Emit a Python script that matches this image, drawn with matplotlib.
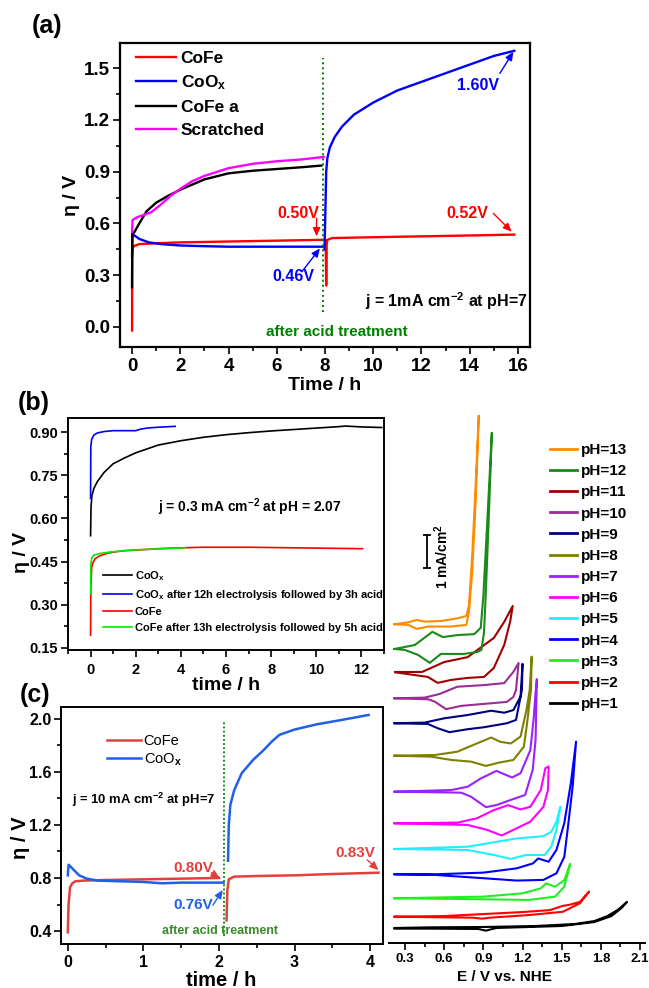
import matplotlib
matplotlib.use('Agg')
import matplotlib.pyplot as plt
from matplotlib.lines import Line2D
from matplotlib.ticker import MultipleLocator

plt.rcParams['font.family'] = ['Liberation Sans', 'DejaVu Sans']
plt.rcParams['font.weight'] = 'bold'
plt.rcParams['mathtext.fontset'] = 'custom'
plt.rcParams['mathtext.rm'] = 'Liberation Sans:bold'
plt.rcParams['mathtext.it'] = 'Liberation Sans:italic:bold'
plt.rcParams['mathtext.bf'] = 'Liberation Sans:bold'
plt.rcParams['mathtext.default'] = 'rm'

# ---------------- data: panel (a) ----------------
a_cofe1_t = [0, 0.005, 0.03, 0.1, 0.3, 1.0, 2.0, 4.0, 6.0, 7.9]
a_cofe1_v = [-0.02, 0.40, 0.46, 0.47, 0.48, 0.485, 0.49, 0.495, 0.50, 0.505]
a_cofe2_t = [8.03, 8.05, 8.07, 8.1, 8.3, 10, 12, 14, 15.85]
a_cofe2_v = [0.50, 0.24, 0.48, 0.505, 0.515, 0.52, 0.525, 0.53, 0.535]
a_coox1_t = [0, 0.02, 0.1, 0.3, 0.7, 1.2, 2.0, 3.0, 4.0, 6.0, 7.9]
a_coox1_v = [0.41, 0.54, 0.53, 0.51, 0.49, 0.48, 0.472, 0.468, 0.465, 0.465, 0.465]
a_coox2_t = [7.98, 8.02, 8.05, 8.1, 8.2, 8.4, 8.7, 9.2, 10, 11, 12, 13, 14, 15, 15.85]
a_coox2_v = [0.45, 0.70, 0.90, 0.98, 1.04, 1.10, 1.16, 1.23, 1.30, 1.37, 1.42, 1.47, 1.52, 1.57, 1.60]
a_cofea_t = [0, 0.01, 0.1, 0.3, 0.6, 1.0, 1.5, 2, 3, 4, 5, 6, 7, 7.85]
a_cofea_v = [0.23, 0.54, 0.55, 0.60, 0.67, 0.72, 0.76, 0.795, 0.855, 0.89, 0.905, 0.915, 0.925, 0.935]
a_scr_t = [0, 0.02, 0.2, 0.5, 0.8, 1.2, 1.6, 2, 2.5, 3, 4, 5, 6, 7, 7.95]
a_scr_v = [0.55, 0.62, 0.635, 0.65, 0.665, 0.71, 0.76, 0.80, 0.845, 0.875, 0.92, 0.945, 0.96, 0.97, 0.985]
a_acid_t = 7.9

# ---------------- data: panel (b) ----------------
b_coox_t = [0, 0.02, 0.06, 0.15, 0.3, 0.6, 1.0, 1.5, 2, 3, 4, 5, 6, 7, 8, 9, 10, 11, 11.3, 12, 12.9]
b_coox_v = [0.54, 0.64, 0.68, 0.705, 0.728, 0.76, 0.79, 0.81, 0.828, 0.855, 0.87, 0.882, 0.891, 0.898,
            0.904, 0.909, 0.914, 0.919, 0.921, 0.918, 0.916]
b_cooxa_t = [0, 0.01, 0.05, 0.15, 0.3, 0.6, 1.0, 2.0, 2.2, 2.5, 3.0, 3.75]
b_cooxa_v = [0.67, 0.85, 0.875, 0.89, 0.897, 0.902, 0.905, 0.905, 0.91, 0.914, 0.917, 0.92]
b_cofe_t = [0, 0.01, 0.05, 0.1, 0.2, 0.4, 0.7, 1.0, 1.5, 2, 3, 4, 5, 6, 7, 8, 9, 10, 11, 12.05]
b_cofe_v = [0.195, 0.35, 0.43, 0.445, 0.46, 0.47, 0.478, 0.483, 0.488, 0.49, 0.495, 0.498, 0.5, 0.5,
            0.5, 0.499, 0.498, 0.497, 0.496, 0.495]
b_cofea_t = [0, 0.01, 0.05, 0.15, 0.4, 0.9, 1.5, 2.0, 3.0, 4.2]
b_cofea_v = [0.34, 0.44, 0.462, 0.473, 0.478, 0.484, 0.488, 0.491, 0.494, 0.498]

# ---------------- data: panel (c) ----------------
c_cofe1_t = [0, 0.01, 0.03, 0.06, 0.1, 0.2, 0.5, 1.0, 1.5, 2.0]
c_cofe1_v = [0.39, 0.60, 0.73, 0.76, 0.775, 0.78, 0.785, 0.79, 0.795, 0.80]
c_cofe2_t = [2.1, 2.11, 2.13, 2.2, 2.5, 3.0, 3.5, 4.11]
c_cofe2_v = [0.48, 0.70, 0.79, 0.81, 0.815, 0.82, 0.83, 0.84]
c_coox1_t = [0, 0.01, 0.03, 0.08, 0.15, 0.25, 0.4, 0.7, 1.0, 1.25, 1.5, 1.8, 2.06]
c_coox1_v = [0.82, 0.90, 0.89, 0.86, 0.82, 0.795, 0.78, 0.775, 0.77, 0.76, 0.765, 0.765, 0.765]
c_coox2_t = [2.12, 2.13, 2.15, 2.2, 2.3, 2.45, 2.6, 2.7, 2.8, 3.0, 3.3, 3.6, 3.98]
c_coox2_v = [0.93, 1.20, 1.35, 1.46, 1.59, 1.69, 1.77, 1.83, 1.88, 1.92, 1.96, 1.99, 2.03]
c_acid_t = 2.07

# ---------------- data: panel (d) CVs (E / V vs NHE, j / mA cm-2 rel. baseline) -------------
ph1_E = [0.22, 0.5, 0.9, 1.3, 1.6, 1.75, 1.85, 1.93, 2.0, 1.96, 1.88, 1.75, 1.5, 1.0, 0.92, 0.86, 0.5, 0.22]
ph1_j = [0, 0.02, 0.03, 0.06, 0.12, 0.21, 0.36, 0.55, 0.79, 0.61, 0.36, 0.18, 0.06, 0, -0.08, -0.03, -0.02, -0.02]
ph2_E = [0.22, 0.6, 0.9, 1.2, 1.41, 1.51, 1.56, 1.64, 1.71, 1.64, 1.51, 1.25, 0.95, 0.89, 0.82, 0.6, 0.22]
ph2_j = [0, 0.02, 0.08, 0.14, 0.2, 0.33, 0.36, 0.45, 0.76, 0.41, 0.15, 0.05, -0.03, -0.06, -0.03, -0.02, 0]
ph3_E = [0.22, 0.9, 1.2, 1.34, 1.38, 1.45, 1.52, 1.565, 1.52, 1.45, 1.25, 0.9, 0.22]
ph3_j = [0, 0.05, 0.15, 0.30, 0.45, 0.35, 0.55, 1.04, 0.35, 0.05, -0.05, -0.03, 0]
ph4_E = [0.22, 0.53, 0.9, 1.155, 1.28, 1.32, 1.40, 1.46, 1.52, 1.57, 1.61, 1.585, 1.55, 1.52, 1.46, 1.36,
         1.155, 0.905, 0.53, 0.22]
ph4_j = [0, 0, 0.05, 0.18, 0.33, 0.48, 0.38, 0.74, 1.55, 2.76, 4.02, 2.7, 1.5, 0.53, 0.03, -0.17, -0.19,
         -0.12, -0.02, 0]
ph5_E = [0.22, 0.78, 0.96, 1.155, 1.36, 1.42, 1.46, 1.49, 1.46, 1.42, 1.37, 1.23, 1.11, 0.98, 0.78, 0.22]
ph5_j = [0, 0.07, 0.19, 0.32, 0.39, 0.52, 0.83, 1.28, 0.58, 0.07, -0.18, -0.18, -0.30, -0.18, -0.03, 0]
ph6_E = [0.22, 0.70, 0.85, 0.98, 1.09, 1.185, 1.26, 1.34, 1.375, 1.40, 1.395, 1.36, 1.26, 1.13, 1.04,
         0.93, 0.78, 0.22]
ph6_j = [0, 0.02, 0.15, 0.40, 0.55, 0.42, 0.50, 1.01, 1.67, 1.72, 1.01, 0.50, 0.05, -0.20, -0.37, -0.20,
         -0.05, 0]
ph7_E = [0.22, 0.655, 0.78, 0.88, 1.00, 1.12, 1.185, 1.26, 1.285, 1.30, 1.31, 1.305, 1.30, 1.278, 1.22,
         1.11, 1.005, 0.92, 0.805, 0.73, 0.22]
ph7_j = [0, 0.05, 0.15, 0.40, 0.63, 0.43, 0.56, 1.26, 2.2, 3.0, 3.41, 2.5, 1.57, 0.66, -0.10, -0.25, -0.40,
         -0.47, -0.15, -0.03, 0]
ph8_E = [0.22, 0.53, 0.70, 0.85, 0.96, 1.03, 1.11, 1.185, 1.23, 1.255, 1.27, 1.265, 1.235, 1.21, 1.13,
         1.02, 0.92, 0.805, 0.655, 0.50, 0.22]
ph8_j = [0, 0.02, 0.12, 0.37, 0.55, 0.42, 0.37, 0.58, 1.38, 1.99, 3.0, 2.0, 0.98, 0.27, -0.13, -0.21,
         -0.31, -0.18, -0.13, -0.03, 0]
ph9_E = [0.22, 0.45, 0.60, 0.78, 0.96, 1.06, 1.13, 1.185, 1.20, 1.195, 1.15, 1.08, 0.905, 0.78, 0.64,
         0.55, 0.475, 0.22]
ph9_j = [0, 0.02, 0.15, 0.25, 0.38, 0.32, 0.40, 0.81, 1.80, 1.0, 0.10, 0, -0.12, -0.18, -0.27, -0.15,
         -0.02, 0]
ph10_E = [0.22, 0.45, 0.565, 0.70, 0.905, 1.06, 1.13, 1.17, 1.15, 1.13, 1.08, 0.905, 0.73, 0.615, 0.527,
          0.476, 0.22]
ph10_j = [0, 0.02, 0.13, 0.35, 0.40, 0.46, 0.80, 1.07, 0.25, 0.04, -0.11, -0.17, -0.23, -0.33, -0.10,
          -0.03, 0]
ph11_E = [0.225, 0.43, 0.60, 0.78, 0.98, 1.06, 1.125, 1.105, 1.06, 0.98, 0.905, 0.78, 0.655, 0.55, 0.475,
          0.225]
ph11_j = [0, 0, 0.30, 0.45, 1.03, 1.52, 2.0, 1.52, 0.82, 0.12, -0.15, -0.18, -0.24, -0.33, -0.15, -0.01]
ph12_E = [0.22, 0.375, 0.51, 0.59, 0.70, 0.83, 0.88, 0.90, 0.93, 0.965, 0.94, 0.92, 0.905, 0.885, 0.855,
          0.75, 0.575, 0.49, 0.40, 0.30, 0.22]
ph12_j = [0, 0.12, 0.52, 0.36, 0.42, 0.45, 0.64, 1.6, 3.85, 6.55, 3.8, 1.8, 0.5, -0.03, -0.09, -0.15,
          -0.15, -0.42, -0.18, -0.03, 0]
ph13_E = [0.22, 0.325, 0.39, 0.45, 0.58, 0.70, 0.77, 0.79, 0.815, 0.84, 0.865, 0.84, 0.815, 0.79, 0.77,
          0.65, 0.48, 0.39, 0.325, 0.22]
ph13_j = [0, 0.06, 0.13, 0.08, 0.10, 0.18, 0.25, 0.58, 2.1, 4.13, 6.32, 3.62, 1.59, 0.38, -0.02, -0.07,
          -0.07, -0.14, -0.02, 0]

ph_labels = ['pH=1', 'pH=2', 'pH=3', 'pH=4', 'pH=5', 'pH=6', 'pH=7', 'pH=8', 'pH=9', 'pH=10',
             'pH=11', 'pH=12', 'pH=13']
ph_offsets = [0.455, 0.797, 1.355, 2.082, 2.848, 3.627, 4.585, 5.676, 6.658, 7.415, 8.212, 8.909, 9.658]
ph_colors = ['#000000', '#ff0000', '#22ee22', '#0000ff', '#22eeff', '#ff00ff', '#9a22ff', '#808000',
             '#000080', '#9b2d96', '#a00000', '#1a8a1a', '#ff8c00']
cv_E = [ph1_E, ph2_E, ph3_E, ph4_E, ph5_E, ph6_E, ph7_E, ph8_E, ph9_E, ph10_E, ph11_E, ph12_E, ph13_E]
cv_j = [ph1_j, ph2_j, ph3_j, ph4_j, ph5_j, ph6_j, ph7_j, ph8_j, ph9_j, ph10_j, ph11_j, ph12_j, ph13_j]

# ---------------- figure ----------------
W, H = 649, 988
fig = plt.figure(figsize=(W / 100, H / 100), dpi=100)


def rect(l, t, r, b):
    return [l / W, 1 - b / H, (r - l) / W, (b - t) / H]


def style_axes(ax, lsize, spw=1.5):
    for s in ax.spines.values():
        s.set_linewidth(spw)
    ax.tick_params(which='both', direction='out', top=False, right=False, width=1.2,
                   labelsize=lsize)
    ax.tick_params(which='major', length=5, pad=2)
    ax.tick_params(which='minor', length=3)


def arrow(ax, start, tip, color, lw=1.0):
    ax.annotate('', xy=tip, xytext=start,
                arrowprops=dict(arrowstyle='-|>,head_length=0.5,head_width=0.22', color=color,
                                lw=lw, shrinkA=0, shrinkB=0))


RED, BLUE, GREEN = '#ff0000', '#0000ff', '#008000'

# ---- panel (a)
axA = fig.add_axes(rect(120, 43, 530, 347))
axA.plot(a_cofe1_t, a_cofe1_v, color=RED, lw=1.7, label='CoFe')
axA.plot(a_cofe2_t, a_cofe2_v, color=RED, lw=1.7)
axA.plot(a_coox1_t, a_coox1_v, color=BLUE, lw=1.7, label='CoO$_x$')
axA.plot(a_coox2_t, a_coox2_v, color=BLUE, lw=1.7)
axA.plot(a_cofea_t, a_cofea_v, color='black', lw=1.7, label='CoFe a')
axA.plot(a_scr_t, a_scr_v, color='#ff00ff', lw=1.7, label='Scratched')
axA.plot([a_acid_t, a_acid_t], [0.087, 1.558], color=GREEN, lw=1.4, ls=(0, (1, 1.6)))
axA.set_xlim(-0.5, 16.5)
axA.set_ylim(-0.116, 1.645)
axA.xaxis.set_major_locator(MultipleLocator(2))
axA.xaxis.set_minor_locator(MultipleLocator(1))
axA.yaxis.set_major_locator(MultipleLocator(0.3))
axA.yaxis.set_minor_locator(MultipleLocator(0.15))
axA.yaxis.set_major_formatter(plt.FuncFormatter(lambda v, p: f'{v:.1f}'))
style_axes(axA, 13.5, 1.6)
axA.tick_params(axis='x', which='major', pad=3)
axA.legend(loc='upper left', bbox_to_anchor=(0.04, 0.975), frameon=False, fontsize=12.5,
           handlelength=2.3, handletextpad=0.25, labelspacing=0.45, borderpad=0, borderaxespad=0)
fs_ann = 11.5
axA.text(6.88, 0.66, '0.50V', color=RED, fontsize=fs_ann, ha='center', va='center')
arrow(axA, (7.65, 0.63), (7.65, 0.525), RED)
axA.text(6.67, 0.29, '0.46V', color=BLUE, fontsize=fs_ann, ha='center', va='center')
arrow(axA, (7.04, 0.32), (7.79, 0.455), BLUE)
axA.text(14.36, 1.40, '1.60V', color=BLUE, fontsize=fs_ann, ha='center', va='center')
arrow(axA, (15.25, 1.469), (15.81, 1.594), BLUE)
axA.text(13.9, 0.658, '0.52V', color=RED, fontsize=fs_ann, ha='center', va='center')
arrow(axA, (14.98, 0.658), (15.74, 0.552), RED)
axA.text(16.38, 0.147, 'j = 1mA cm$^{-2}$ at pH=7', color='black', fontsize=11.5, ha='right', va='center')
axA.text(8.51, -0.03, 'after acid treatment', color=GREEN, fontsize=11, ha='center', va='center')
fig.text(32 / W, 1 - 26 / H, '(a)', fontsize=18, ha='left', va='center')
fig.text(325 / W, 1 - 386 / H, 'Time / h', fontsize=14, ha='center', va='center')
fig.text(72 / W, 1 - 195 / H, 'η / V', fontsize=14, ha='center', va='center', rotation=90)

# ---- panel (b)
axB = fig.add_axes(rect(68, 418, 384, 650))
axB.plot(b_coox_t, b_coox_v, color='black', lw=1.2, label='CoO$_x$')
axB.plot(b_cooxa_t, b_cooxa_v, color=BLUE, lw=1.2, label='CoO$_x$ after 12h electrolysis followed by 3h acid')
axB.plot(b_cofe_t, b_cofe_v, color=RED, lw=1.2, label='CoFe')
axB.plot(b_cofea_t, b_cofea_v, color='#00ee00', lw=1.2, label='CoFe after 13h electrolysis followed by 5h acid')
axB.set_xlim(-1, 13)
axB.set_ylim(0.143, 0.949)
axB.xaxis.set_major_locator(MultipleLocator(2))
axB.xaxis.set_minor_locator(MultipleLocator(1))
axB.yaxis.set_major_locator(MultipleLocator(0.15))
axB.yaxis.set_minor_locator(MultipleLocator(0.075))
axB.yaxis.set_major_formatter(plt.FuncFormatter(lambda v, p: f'{v:.2f}'))
style_axes(axB, 10.5, 1.4)
axB.tick_params(axis='x', which='major', pad=4)
axB.legend(loc='upper left', bbox_to_anchor=(0.111, 0.35), frameon=False, fontsize=8,
           handlelength=2.6, handletextpad=0.25, labelspacing=0.48, borderpad=0, borderaxespad=0)
axB.text(7.04, 0.64, 'j = 0.3 mA cm$^{-2}$ at pH = 2.07', fontsize=10, ha='center', va='center')
fig.text(18 / W, 1 - 403 / H, '(b)', fontsize=18, ha='left', va='center')
fig.text(226 / W, 1 - 685 / H, 'time / h', fontsize=14, ha='center', va='center')
fig.text(21 / W, 1 - 552 / H, 'η / V', fontsize=14, ha='center', va='center', rotation=90)

# ---- panel (c)
C_RED, C_BLUE = '#e3403c', '#2060e8'
axC = fig.add_axes(rect(61, 707, 383, 944))
axC.plot(c_cofe1_t, c_cofe1_v, color=C_RED, lw=1.8, label='CoFe')
axC.plot(c_cofe2_t, c_cofe2_v, color=C_RED, lw=1.8)
axC.plot(c_coox1_t, c_coox1_v, color=C_BLUE, lw=1.8, label='CoO$_x$')
axC.plot(c_coox2_t, c_coox2_v, color=C_BLUE, lw=1.8)
axC.plot([c_acid_t, c_acid_t], [0.36, 1.99], color=GREEN, lw=1.3, ls=(0, (1, 1.3)))
axC.set_xlim(-0.09, 4.17)
axC.set_ylim(0.302, 2.09)
axC.xaxis.set_major_locator(MultipleLocator(1))
axC.xaxis.set_minor_locator(MultipleLocator(0.5))
axC.yaxis.set_major_locator(MultipleLocator(0.4))
axC.yaxis.set_minor_locator(MultipleLocator(0.2))
axC.yaxis.set_major_formatter(plt.FuncFormatter(lambda v, p: f'{v:.1f}'))
style_axes(axC, 11.5, 1.4)
axC.tick_params(axis='x', which='major', pad=3)
axC.legend(loc='upper left', bbox_to_anchor=(0.143, 0.885), frameon=False,
           prop=dict(size=10.5, weight='normal'),
           handlelength=2.3, handletextpad=0.2, labelspacing=0.2, borderpad=0, borderaxespad=0)
axC.text(1.66, 0.873, '0.80V', color=C_RED, fontsize=11, ha='center', va='center')
arrow(axC, (1.9, 0.84), (2.01, 0.80), C_RED)
axC.text(1.66, 0.595, '0.76V', color=C_BLUE, fontsize=11, ha='center', va='center')
arrow(axC, (1.92, 0.595), (2.05, 0.71), C_BLUE)
axC.text(3.81, 0.986, '0.83V', color=C_RED, fontsize=11, ha='center', va='center')
arrow(axC, (3.96, 0.937), (4.11, 0.86), C_RED)
axC.text(0.06, 1.39, 'j = 10 mA cm$^{-2}$ at pH=7', fontsize=9.4, ha='left', va='center')
axC.text(2.01, 0.40, 'after acid treatment', color='#3a8a2a', fontsize=9, ha='center', va='center')
fig.text(20 / W, 1 - 695 / H, '(c)', fontsize=18, ha='left', va='center')
fig.text(221 / W, 1 - 980 / H, 'time / h', fontsize=14.5, ha='center', va='center')
fig.text(20 / W, 1 - 838 / H, 'η / V', fontsize=14.5, ha='center', va='center', rotation=90)

# ---- panel (d)
axD = fig.add_axes(rect(389, 410, 645, 943))
handles = []
for E, j, off, col, lab in zip(cv_E, cv_j, ph_offsets, ph_colors, ph_labels):
    axD.plot(E, [v + off for v in j], color=col, lw=1.5, solid_joinstyle='round')
    handles.append(Line2D([], [], color=col, lw=2.0, label=lab))
axD.set_xlim(0.1775, 2.138)
axD.set_ylim(0, 16.15)
for s in ['left', 'top', 'right']:
    axD.spines[s].set_visible(False)
axD.spines['bottom'].set_linewidth(1.4)
axD.set_yticks([])
axD.xaxis.set_major_locator(MultipleLocator(0.3))
axD.xaxis.set_minor_locator(MultipleLocator(0.15))
axD.xaxis.set_major_formatter(plt.FuncFormatter(lambda v, p: f'{v:.1f}'))
axD.tick_params(which='both', direction='out', width=1.2, labelsize=9.5)
axD.tick_params(which='major', length=5, pad=2)
axD.tick_params(which='minor', length=3)
# scale bar 1 mA/cm2
axD.errorbar([0.466], [11.86], yerr=[[0.5], [0.5]], color='black', lw=1.3, capsize=3, capthick=1.3)
axD.text(0.58, 11.7, '1 mA/cm$^2$', rotation=90, fontsize=10, ha='center', va='center')
fig.text(504 / W, 1 - 977 / H, 'E / V vs. NHE', fontsize=11, ha='center', va='center')
axD.legend(handles=handles[::-1], loc='upper left', bbox_to_anchor=(550 / W, 1 - 443 / H),
           bbox_transform=fig.transFigure, frameon=False, fontsize=11,
           handlelength=1.75, handletextpad=0.3, labelspacing=0.47, borderpad=0, borderaxespad=0)

fig.savefig('out.png', dpi=100)
